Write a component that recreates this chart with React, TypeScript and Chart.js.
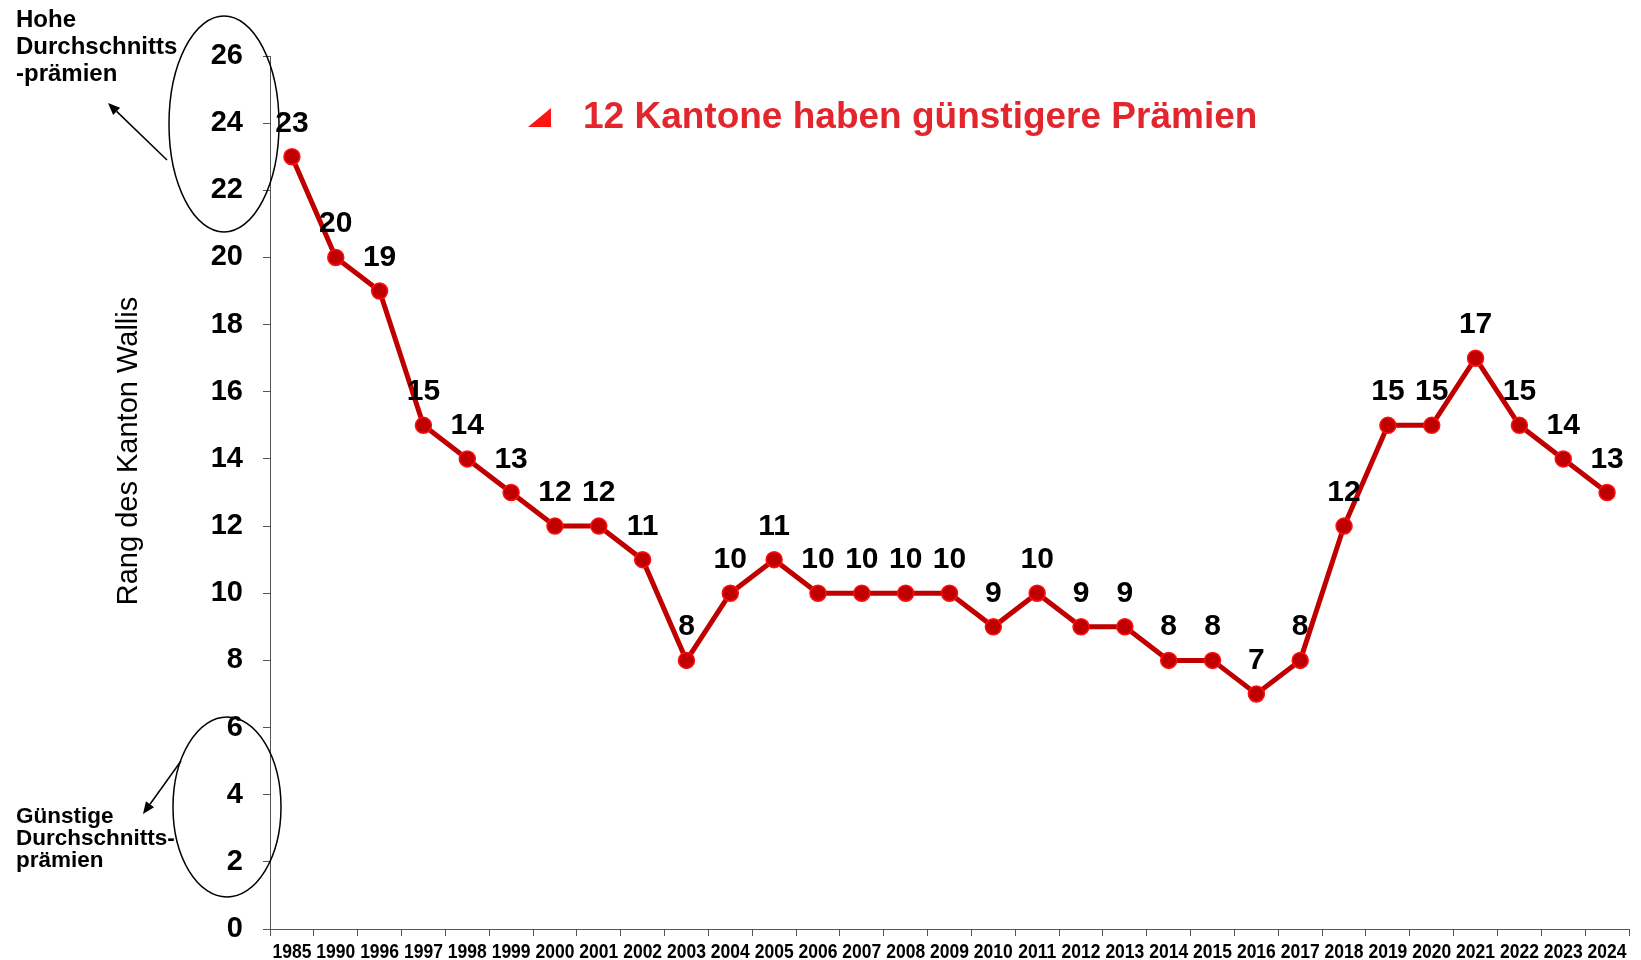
import React, { useEffect, useRef } from 'react';
import { Chart, registerables } from 'chart.js';

Chart.register(...registerables);

const years = ['1985', '1990', '1996', '1997', '1998', '1999', '2000', '2001', '2002', '2003', '2004', '2005', '2006', '2007', '2008', '2009', '2010', '2011', '2012', '2013', '2014', '2015', '2016', '2017', '2018', '2019', '2020', '2021', '2022', '2023', '2024'];
const ranks = [23, 20, 19, 15, 14, 13, 12, 12, 11, 8, 10, 11, 10, 10, 10, 10, 9, 10, 9, 9, 8, 8, 7, 8, 12, 15, 15, 17, 15, 14, 13];
const yMin = 0;
const yMax = 26;
const yStep = 2;
const yAxisTitle = 'Rang des Kanton Wallis';
const headline = '12 Kantone haben günstigere Prämien';
const highNote = ['Hohe', 'Durchschnitts', '-prämien'];
const lowNote = ['Günstige', 'Durchschnitts-', 'prämien'];

const W = 1641;
const H = 960;
const FONT = '"Liberation Sans", Arial, Helvetica, sans-serif';

function drawArrow(ctx: CanvasRenderingContext2D, x1: number, y1: number, x2: number, y2: number) {
  const ang = Math.atan2(y2 - y1, x2 - x1);
  const len = 12;
  const hw = 5;
  const bx = x2 - len * Math.cos(ang);
  const by = y2 - len * Math.sin(ang);
  ctx.beginPath();
  ctx.moveTo(x1, y1);
  ctx.lineTo(bx, by);
  ctx.stroke();
  ctx.beginPath();
  ctx.moveTo(x2, y2);
  ctx.lineTo(bx + hw * Math.sin(ang), by - hw * Math.cos(ang));
  ctx.lineTo(bx - hw * Math.sin(ang), by + hw * Math.cos(ang));
  ctx.closePath();
  ctx.fill();
}

const dataLabelPlugin = {
  id: 'dataLabels',
  afterDatasetsDraw(chart: any) {
    const ctx: CanvasRenderingContext2D = chart.ctx;
    const meta = chart.getDatasetMeta(0);
    const values = chart.data.datasets[0].data as number[];
    ctx.save();
    ctx.font = `bold 30px ${FONT}`;
    ctx.fillStyle = '#000000';
    ctx.textAlign = 'center';
    ctx.textBaseline = 'alphabetic';
    meta.data.forEach((pt: any, i: number) => {
      ctx.fillText(String(values[i]), pt.x, pt.y - 25);
    });
    ctx.restore();
  },
};

// condensed bold year labels under the category axis
const xLabelPlugin = {
  id: 'xLabels',
  afterDraw(chart: any) {
    const ctx: CanvasRenderingContext2D = chart.ctx;
    const xs = chart.scales.x;
    const labels = chart.data.labels as string[];
    ctx.save();
    ctx.font = `bold 20px ${FONT}`;
    ctx.fillStyle = '#000000';
    ctx.textAlign = 'center';
    ctx.textBaseline = 'alphabetic';
    labels.forEach((lab, i) => {
      const x = xs.getPixelForTick(i);
      ctx.save();
      ctx.translate(x, xs.bottom - 2);
      ctx.scale(0.875, 1);
      ctx.fillText(lab, 0, 0);
      ctx.restore();
    });
    ctx.restore();
  },
};

const annotationPlugin = {
  id: 'annotations',
  afterDraw(chart: any) {
    const ctx: CanvasRenderingContext2D = chart.ctx;
    const area = chart.chartArea;
    ctx.save();

    // y axis title
    ctx.save();
    ctx.translate(137, 451);
    ctx.rotate(-Math.PI / 2);
    ctx.font = `29px ${FONT}`;
    ctx.fillStyle = '#000000';
    ctx.textAlign = 'center';
    ctx.textBaseline = 'alphabetic';
    ctx.fillText(yAxisTitle, 0, 0);
    ctx.restore();

    // headline with triangle marker
    ctx.fillStyle = '#FF1414';
    ctx.beginPath();
    ctx.moveTo(528, 127);
    ctx.lineTo(551, 127);
    ctx.lineTo(551, 108);
    ctx.closePath();
    ctx.fill();
    ctx.font = `bold 37px ${FONT}`;
    ctx.fillStyle = '#E3262D';
    ctx.textAlign = 'left';
    ctx.textBaseline = 'alphabetic';
    ctx.fillText(headline, 583, 128);

    // notes
    ctx.fillStyle = '#000000';
    ctx.font = `bold 24px ${FONT}`;
    highNote.forEach((t, i) => ctx.fillText(t, 16, 27 + i * 27));
    ctx.font = `bold 22.5px ${FONT}`;
    lowNote.forEach((t, i) => ctx.fillText(t, 16, 823 + i * 22));

    // ellipses
    ctx.strokeStyle = '#000000';
    ctx.lineWidth = 1.5;
    ctx.beginPath();
    ctx.ellipse(area.left - 46, 124, 55, 108, 0, 0, Math.PI * 2);
    ctx.stroke();
    ctx.beginPath();
    ctx.ellipse(area.left - 43, 807, 54, 90, 0, 0, Math.PI * 2);
    ctx.stroke();

    // arrows
    ctx.fillStyle = '#000000';
    ctx.lineWidth = 1.5;
    drawArrow(ctx, 167, 160, 108, 103);
    drawArrow(ctx, 181, 761, 143, 814);

    ctx.restore();
  },
};

export default function App() {
  const ref = useRef<HTMLCanvasElement | null>(null);

  useEffect(() => {
    document.body.style.margin = '0';
    const canvas = ref.current;
    if (!canvas) return;

    const chart = new Chart(canvas, {
      type: 'line',
      data: {
        labels: years,
        datasets: [
          {
            data: ranks,
            borderColor: '#C00000',
            borderWidth: 5,
            pointRadius: 8,
            pointBackgroundColor: '#C00000',
            pointBorderColor: '#FF1010',
            pointBorderWidth: 1.5,
            tension: 0,
            fill: false,
          },
        ],
      },
      options: {
        responsive: false,
        animation: false,
        layout: { padding: { top: 56, right: 12, left: 0, bottom: 0 } },
        plugins: {
          legend: { display: false },
          tooltip: { enabled: false },
          title: { display: false },
        },
        scales: {
          x: {
            type: 'category',
            offset: true,
            grid: { offset: true, drawOnChartArea: false, drawTicks: true, tickLength: 7, color: '#555555', lineWidth: 1 },
            border: { display: true, color: '#555555', width: 1 },
            ticks: { display: false, autoSkip: false, maxRotation: 0, minRotation: 0 },
            afterFit: (s: any) => {
              s.height = 31;
            },
          },
          y: {
            min: yMin,
            max: yMax,
            grid: { drawOnChartArea: false, drawTicks: true, tickLength: 7, color: '#555555', lineWidth: 1 },
            border: { display: true, color: '#555555', width: 1 },
            ticks: { stepSize: yStep, color: '#000000', padding: 20, font: { family: FONT, size: 29, weight: 'bold' } },
            afterFit: (s: any) => {
              s.width = 270;
              s.paddingTop = 0;
              s.paddingBottom = 0;
            },
          },
        },
      },
      plugins: [dataLabelPlugin, xLabelPlugin, annotationPlugin],
    });

    return () => {
      chart.destroy();
    };
  }, []);

  return (
    <div style={{ width: W, height: H }}>
      <canvas ref={ref} width={W} height={H} style={{ width: W, height: H, display: 'block' }} />
    </div>
  );
}
